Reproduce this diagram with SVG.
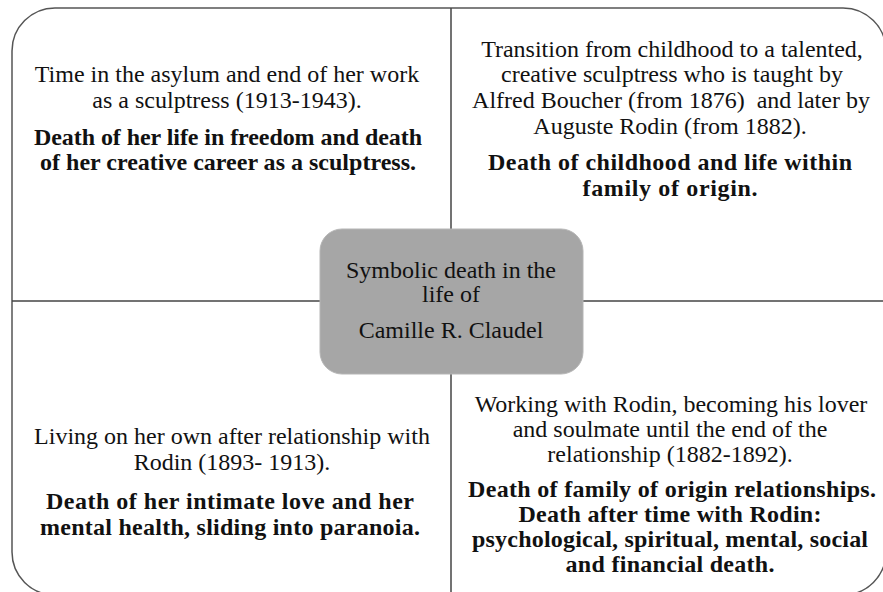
<svg xmlns="http://www.w3.org/2000/svg" width="883" height="592" viewBox="0 0 883 592">
<style>
.t{font-family:"Liberation Serif","Times New Roman",serif;font-size:24px;fill:#111;text-anchor:middle}
.b{font-weight:bold;font-size:24px}
.ln{stroke:#444;stroke-width:1.5;fill:none}
</style>
<rect width="883" height="592" fill="#fff"/>
<g id="frame">
<rect x="12" y="8" width="874" height="587" rx="43" ry="43" fill="#fff" stroke="#555" stroke-width="1.5"/>
</g>
<g id="connectors">
<line class="ln" x1="451" y1="8" x2="451" y2="595"/>
<line class="ln" x1="12" y1="301" x2="886" y2="301"/>
</g>
<g id="q-top-left">
<text class="t" x="227" y="82">Time in the asylum and end of her work</text>
<text class="t" x="227" y="108">as a sculptress (1913-1943).</text>
<text class="t b" x="228" y="145" textLength="388" lengthAdjust="spacing">Death of her life in freedom and death</text>
<text class="t b" x="228" y="170" textLength="376" lengthAdjust="spacing">of her creative career as a sculptress.</text>
</g>
<g id="q-top-right">
<text class="t" x="672" y="57">Transition from childhood to a talented,</text>
<text class="t" x="672" y="82">creative sculptress who is taught by</text>
<text class="t" x="671" y="108" xml:space="preserve">Alfred Boucher (from 1876)  and later by</text>
<text class="t" x="670" y="134">Auguste Rodin (from 1882).</text>
<text class="t b" x="670" y="170" textLength="364" lengthAdjust="spacing">Death of childhood and life within</text>
<text class="t b" x="670" y="196" textLength="175" lengthAdjust="spacing">family of origin.</text>
</g>
<g id="q-bottom-left">
<text class="t" x="232" y="444">Living on her own after relationship with</text>
<text class="t" x="232" y="470">Rodin (1893- 1913).</text>
<text class="t b" x="230" y="509" textLength="368" lengthAdjust="spacing">Death of her intimate love and her</text>
<text class="t b" x="230" y="535" textLength="380" lengthAdjust="spacing">mental health, sliding into paranoia.</text>
</g>
<g id="q-bottom-right">
<text class="t" x="671" y="412">Working with Rodin, becoming his lover</text>
<text class="t" x="670" y="437">and soulmate until the end of the</text>
<text class="t" x="670" y="462">relationship (1882-1892).</text>
<text class="t b" x="672" y="497" textLength="408" lengthAdjust="spacing">Death of family of origin relationships.</text>
<text class="t b" x="670" y="522" textLength="303" lengthAdjust="spacing">Death after time with Rodin:</text>
<text class="t b" x="670" y="547" textLength="396" lengthAdjust="spacing">psychological, spiritual, mental, social</text>
<text class="t b" x="670" y="572" textLength="209" lengthAdjust="spacing">and financial death.</text>
</g>
<g id="center">
<rect x="320" y="229" width="263" height="145" rx="22" ry="22" fill="#a6a6a6" stroke="#b5b5b5" stroke-width="1"/>
<text class="t" x="451" y="278">Symbolic death in the</text>
<text class="t" x="451" y="302">life of</text>
<text class="t" x="451" y="338">Camille R. Claudel</text>
</g>
</svg>
